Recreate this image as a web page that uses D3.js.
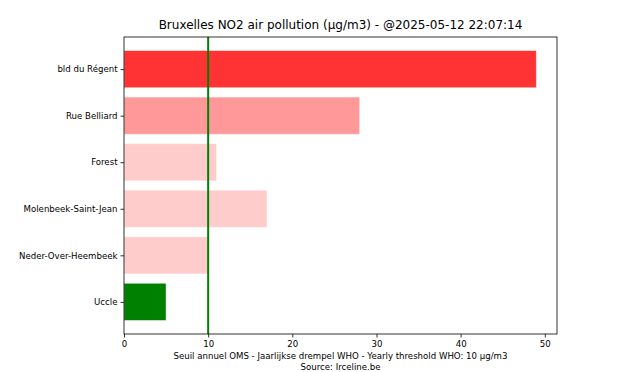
<!DOCTYPE html>
<html>
<head>
<meta charset="utf-8">
<script src="https://cdn.jsdelivr.net/npm/d3@7"></script>
<style>
  body { margin: 0; background: #fff; }
  svg text { font-family: "DejaVu Sans", sans-serif; fill: #000; }
</style>
</head>
<body>
<div id="chart"></div>
<script>
// NO2 readings per station
const stations = ["bld du Régent", "Rue Belliard", "Forest", "Molenbeek-Saint-Jean", "Neder-Over-Heembeek", "Uccle"];
const values = [49, 28, 11, 17, 10, 5];
const barColors = ["#ff3333", "#ff9999", "#ffcccc", "#ffcccc", "#ffcccc", "#008000"];
const xTicks = [0, 10, 20, 30, 40, 50];
const threshold = 10;
const titleText = "Bruxelles NO2 air pollution (µg/m3) - @2025-05-12 22:07:14";
const xLabelLines = ["Seuil annuel OMS - Jaarlijkse drempel WHO - Yearly threshold WHO: 10 µg/m3", "Source: Irceline.be"];

const W = 620, H = 372;
const margin = { top: 37, right: 63, bottom: 38, left: 124 };
const iw = W - margin.left - margin.right;
const ih = H - margin.top - margin.bottom;

const svg = d3.select("#chart").append("svg")
  .attr("width", W).attr("height", H);

const g = svg.append("g").attr("transform", `translate(${margin.left},${margin.top})`);

// matplotlib-like margins: 5% padding on the data extent
const xMax = d3.max(values) * 1.05;
const x = d3.scaleLinear().domain([0, xMax]).range([0, iw]);

// categories: index 0 at top, bar height 0.8 units
const n = stations.length;
const pad = (n - 1 + 0.8) * 0.05;
const y = d3.scaleLinear().domain([-0.4 - pad, n - 1 + 0.4 + pad]).range([0, ih]);

g.selectAll("rect.bar")
  .data(values)
  .enter().append("rect")
  .attr("class", "bar")
  .attr("x", x(0))
  .attr("y", (d, i) => y(i - 0.4))
  .attr("width", d => x(d) - x(0))
  .attr("height", (d, i) => y(i + 0.4) - y(i - 0.4))
  .attr("fill", (d, i) => barColors[i])
  .attr("stroke", "rgba(255,255,255,0.5)")
  .attr("stroke-width", 1);

// threshold line
g.append("line")
  .attr("x1", x(threshold)).attr("x2", x(threshold))
  .attr("y1", 0).attr("y2", ih)
  .attr("stroke", "#008000")
  .attr("stroke-width", 2);

// axes
const xAxis = g.append("g")
  .attr("transform", `translate(0,${ih})`)
  .call(d3.axisBottom(x).tickValues(xTicks).tickSize(3.5).tickPadding(3));

const yAxis = g.append("g")
  .call(d3.axisLeft(y).tickValues(d3.range(n)).tickFormat(i => stations[i]).tickSize(3.5).tickPadding(3));

[xAxis, yAxis].forEach(a => {
  a.select(".domain").remove();
  a.selectAll("text").style("font-size", "8.6px").style("font-family", "DejaVu Sans, sans-serif");
  a.selectAll("line").attr("stroke", "#000").attr("stroke-width", 0.8);
});

// frame
g.append("rect")
  .attr("width", iw).attr("height", ih)
  .attr("fill", "none").attr("stroke", "#000").attr("stroke-width", 0.8);

// title
svg.append("text")
  .attr("x", margin.left + iw / 2).attr("y", margin.top - 8)
  .attr("text-anchor", "middle")
  .style("font-size", "12px")
  .text(titleText);

// x label (two lines)
svg.append("g").selectAll("text")
  .data(xLabelLines)
  .enter().append("text")
  .attr("x", margin.left + iw / 2)
  .attr("y", (d, i) => 359 + i * 10.5)
  .attr("text-anchor", "middle")
  .style("font-size", "8.6px")
  .text(d => d);
</script>
</body>
</html>
